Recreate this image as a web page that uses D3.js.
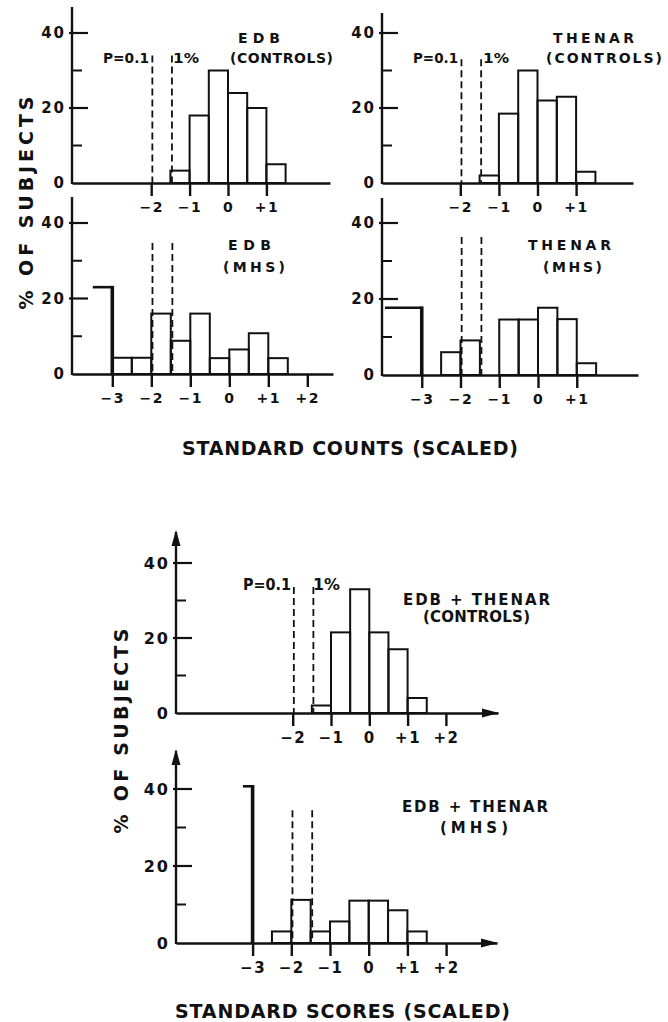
<!DOCTYPE html>
<meta charset="utf-8">
<script src="https://d3js.org/d3.v7.min.js"></script>
<style>
  body { margin: 0; background: #fff; }
  text { font-family: "DejaVu Sans", sans-serif; font-weight: bold; fill: #111; }
</style>
<div id="chart"></div>
<script>

// ---- data (% of subjects per half-unit bin) ----
var controlBins = [-1.5, -1, -0.5, 0, 0.5, 1];
var mhsBins = [-3, -2.5, -2, -1.5, -1, -0.5, 0, 0.5, 1];

var edbControls    = [3.3, 18, 30, 24, 20, 5];
var thenarControls = [2, 18.5, 30, 22, 23, 3];
var bothControls   = [2, 21.5, 33, 21.5, 17, 4];

var edbMHS    = [4.3, 4.3, 16, 8.8, 16, 4.2, 6.5, 10.8, 4.2];
var thenarMHS = [0, 6, 9.1, 0, 14.6, 14.6, 17.7, 14.7, 3.1];
var bothMHS   = [0, 3, 11.2, 3, 5.6, 11, 11, 8.5, 3];

// open-ended "below -3" bins: start of the top line and height
var openStart = [-3.5, -3.95, -3.25];
var openPct   = [23, 17.7, 40.7];

// significance cut-offs (dashed lines)
var cutoffs = [-1.97, -1.46];
var cutoffLabels = ["P=0.1", "1%"];

var ticksControls = [-2, -1, 0, 1];
var ticksMHS = [-3, -2, -1, 0, 1];
var ticksEdbMHS = [-3, -2, -1, 0, 1, 2];
var ticksBothC = [-2, -1, 0, 1, 2];
var ticksBothM = [-3, -2, -1, 0, 1, 2];
var yTicks = [0, 20, 40];
var yMinor = [10, 30];

// ---- layout ----
var svg = d3.select("#chart").append("svg")
    .attr("width", 668).attr("height", 1022);

var panels = [
  {values: edbControls, bins: controlBins, ticks: ticksControls, left: 72, zero: 228, unit: 38.4, right: 330,
   base: 183, top40: 33, axisTop: 7, dashTop: 34, fs: 14, cut: true,
   title: [["EDB", 238, 43, 42], ["(CONTROLS)", 230, 63, 103]], cutPos: [[103, 63, 46], [173, 63, 26]]},
  {values: thenarControls, bins: controlBins, ticks: ticksControls, left: 382, zero: 537.5, unit: 38.6, right: 633,
   base: 183, top40: 33, axisTop: 13, dashTop: 33, fs: 14, cut: true,
   title: [["THENAR", 553, 43, 81], ["(CONTROLS)", 546, 63, 116]], cutPos: [[413, 63, 45], [483, 63, 26]]},
  {values: edbMHS, bins: mhsBins, ticks: ticksEdbMHS, left: 72, zero: 229.3, unit: 39, right: 333,
   base: 374, top40: 223, axisTop: 197, dashTop: 34.7, fs: 14, open: 0,
   title: [["EDB", 228, 250, 43], ["(MHS)", 223, 272, 62]]},
  {values: thenarMHS, bins: mhsBins, ticks: ticksMHS, left: 382, zero: 538, unit: 38.75, right: 638,
   base: 375, top40: 223, axisTop: 198, dashTop: 36.3, fs: 14, open: 1,
   title: [["THENAR", 528, 250, 83], ["(MHS)", 543, 272, 59]]},
  {values: bothControls, bins: controlBins, ticks: ticksBothC, left: 176, zero: 369.3, unit: 38.3, right: 498,
   base: 713, top40: 563, axisTop: 532, dashTop: 33.6, fs: 15, cut: true, arrows: true,
   title: [["EDB + THENAR", 403, 605, 147], ["(CONTROLS)", 423, 622, 107]], cutPos: [[243, 590, 48], [313, 590, 27]]},
  {values: bothMHS, bins: mhsBins, ticks: ticksBothM, left: 176, zero: 368.7, unit: 38.7, right: 497,
   base: 943, top40: 789, axisTop: 751, dashTop: 34.5, fs: 15, open: 2, arrows: true,
   title: [["EDB + THENAR", 402, 812, 146], ["(MHS)", 440, 833, 68]]}
];

function fmt(d) { return d > 0 ? "+" + d : d < 0 ? "\u2212" + (-d) : "0"; }

panels.forEach(function (p) {
  var x = d3.scaleLinear()
      .domain([(p.left - p.zero) / p.unit, (p.right - p.zero) / p.unit])
      .range([p.left, p.right]);
  var y = d3.scaleLinear().domain([0, 40]).range([p.base, p.top40]);
  var g = svg.append("g");

  // bars
  var data = p.bins.map(function (b, i) { return {b: b, v: p.values[i]}; })
      .filter(function (d) { return d.v > 0; });
  g.selectAll("rect.bar").data(data).enter().append("rect")
      .attr("x", function (d) { return x(d.b); })
      .attr("width", function (d) { return x(d.b + 0.5) - x(d.b); })
      .attr("y", function (d) { return y(d.v); })
      .attr("height", function (d) { return p.base - y(d.v); })
      .attr("fill", "none").attr("stroke", "#111").attr("stroke-width", 2);

  // open-ended bin below -3
  if (p.open !== undefined) {
    g.append("line")
        .attr("x1", x(openStart[p.open])).attr("x2", x(-3))
        .attr("y1", y(openPct[p.open])).attr("y2", y(openPct[p.open]))
        .attr("stroke", "#111").attr("stroke-width", 2.6);
    g.append("line")
        .attr("x1", x(-3)).attr("x2", x(-3))
        .attr("y1", y(openPct[p.open]) - 1.3).attr("y2", p.base)
        .attr("stroke", "#111").attr("stroke-width", 3.6);
  }

  // dashed cut-off lines
  g.selectAll("line.cut").data(cutoffs).enter().append("line")
      .attr("x1", function (d) { return x(d); }).attr("x2", function (d) { return x(d); })
      .attr("y1", y(p.dashTop)).attr("y2", p.base)
      .attr("stroke", "#111").attr("stroke-width", 1.8)
      .style("stroke-dasharray", "7,4");

  if (p.cut) {
    g.selectAll("text.cut").data(cutoffLabels).enter().append("text")
        .attr("x", function (d, i) { return p.cutPos[i][0]; })
        .attr("y", function (d, i) { return p.cutPos[i][1]; })
        .attr("textLength", function (d, i) { return p.cutPos[i][2]; })
        .attr("lengthAdjust", "spacingAndGlyphs")
        .style("font-size", p.fs + "px")
        .text(function (d) { return d; });
  }

  // x axis
  var xa = g.append("g").attr("transform", "translate(0," + p.base + ")")
      .call(d3.axisBottom(x).tickValues(p.ticks).tickSize(13).tickSizeOuter(0)
            .tickPadding(6).tickFormat(fmt));
  xa.select(".domain").attr("stroke", "#111").attr("stroke-width", 2.4);
  xa.selectAll(".tick line").attr("stroke", "#111").attr("stroke-width", 2.4);
  xa.selectAll(".tick text").style("font-size", p.fs + "px").style("letter-spacing", "1.5px")
      .attr("font-family", null).attr("fill", "#111");

  // y axis
  g.append("line")
      .attr("x1", p.left).attr("x2", p.left)
      .attr("y1", p.axisTop).attr("y2", p.base + 1)
      .attr("stroke", "#111").attr("stroke-width", 2.4);
  var ya = g.append("g").attr("transform", "translate(" + p.left + ",0)")
      .call(d3.axisLeft(y).tickValues(yTicks).tickSize(0).tickPadding(6).tickFormat(d3.format("d")));
  ya.select(".domain").remove();
  ya.selectAll(".tick text").style("font-size", (p.fs + 1) + "px").style("letter-spacing", "2px")
      .attr("font-family", null).attr("fill", "#111");
  g.selectAll("line.major").data(yTicks.slice(1)).enter().append("line")
      .attr("x1", p.left - 3).attr("x2", p.left + 16)
      .attr("y1", function (d) { return y(d); }).attr("y2", function (d) { return y(d); })
      .attr("stroke", "#111").attr("stroke-width", 2.2);
  g.selectAll("line.minor").data(yMinor).enter().append("line")
      .attr("x1", p.left).attr("x2", p.left + 10)
      .attr("y1", function (d) { return y(d); }).attr("y2", function (d) { return y(d); })
      .attr("stroke", "#111").attr("stroke-width", 2);

  if (p.arrows) {
    g.append("path")
        .attr("d", "M" + p.left + "," + (p.axisTop - 2) + "l-4.5,16h9z").attr("fill", "#111");
    g.append("path")
        .attr("d", "M" + (p.right + 1) + "," + p.base + "l-17,-4.5v9z").attr("fill", "#111");
  }

  // panel titles
  g.selectAll("text.title").data(p.title).enter().append("text")
      .attr("x", function (d) { return d[1]; })
      .attr("y", function (d) { return d[2]; })
      .attr("textLength", function (d) { return d[3]; })
      .attr("lengthAdjust", "spacing")
      .style("font-size", p.fs + "px")
      .text(function (d) { return d[0]; });
});

// axis titles
svg.append("text")
    .attr("transform", "translate(33,203) rotate(-90)")
    .attr("text-anchor", "middle").attr("textLength", 213).attr("lengthAdjust", "spacing")
    .style("font-size", "19px").text("% OF SUBJECTS");
svg.append("text")
    .attr("transform", "translate(128,731) rotate(-90)")
    .attr("text-anchor", "middle").attr("textLength", 205).attr("lengthAdjust", "spacing")
    .style("font-size", "19px").text("% OF SUBJECTS");
svg.append("text")
    .attr("x", 182).attr("y", 455).attr("textLength", 336).attr("lengthAdjust", "spacing")
    .style("font-size", "19px").text("STANDARD COUNTS (SCALED)");
svg.append("text")
    .attr("x", 175).attr("y", 1018).attr("textLength", 335).attr("lengthAdjust", "spacing")
    .style("font-size", "19px").text("STANDARD SCORES (SCALED)");

</script>
